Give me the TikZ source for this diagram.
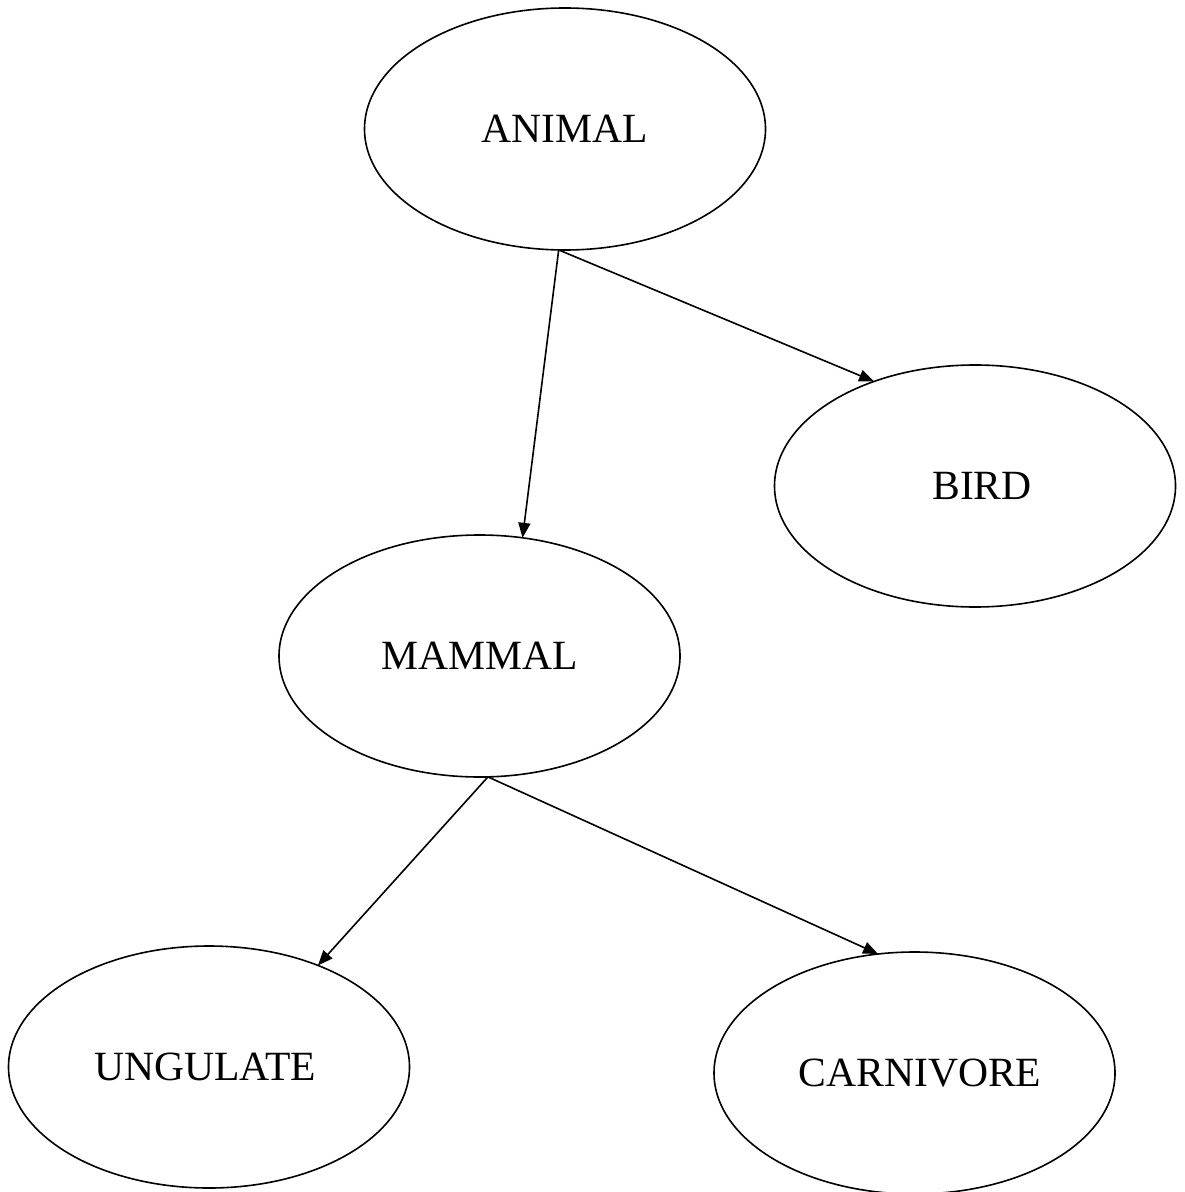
\documentclass[tikz,border=0pt]{standalone}
\usepackage{fontspec}
\setmainfont{Liberation Serif}
\usetikzlibrary{shapes.geometric,arrows.meta}
\begin{document}
\begin{tikzpicture}[x=0.5pt,y=-0.5pt,
  oval/.style={draw, ellipse, line width=0.8pt, minimum width=200.5pt, minimum height=121pt, inner sep=0pt, outer sep=0pt, font=\fontsize{20.8pt}{24pt}\selectfont},
  link/.style={line width=0.8pt, -{Triangle[length=7.5pt,width=6pt]}}]
\useasboundingbox (0,0) rectangle (1184,1192);
\node[oval] (animal) at (565,129) {ANIMAL};
\node[oval] (bird) at (975,486) {\hspace*{7pt}BIRD};
\node[oval] (mammal) at (479.5,656) {MAMMAL};
\node[oval] (ungulate) at (209,1067) {UNGULATE\hspace*{4pt}};
\node[oval] (carnivore) at (914.5,1073) {\hspace*{5.5pt}CARNIVORE};
\draw[link] (animal.267) -- (mammal.70);
\draw[link] (animal.267) -- (bird.134.7);
\draw[link] (mammal.274) -- (ungulate.43);
\draw[link] (mammal.274) -- (carnivore.107.6);
\end{tikzpicture}
\end{document}
